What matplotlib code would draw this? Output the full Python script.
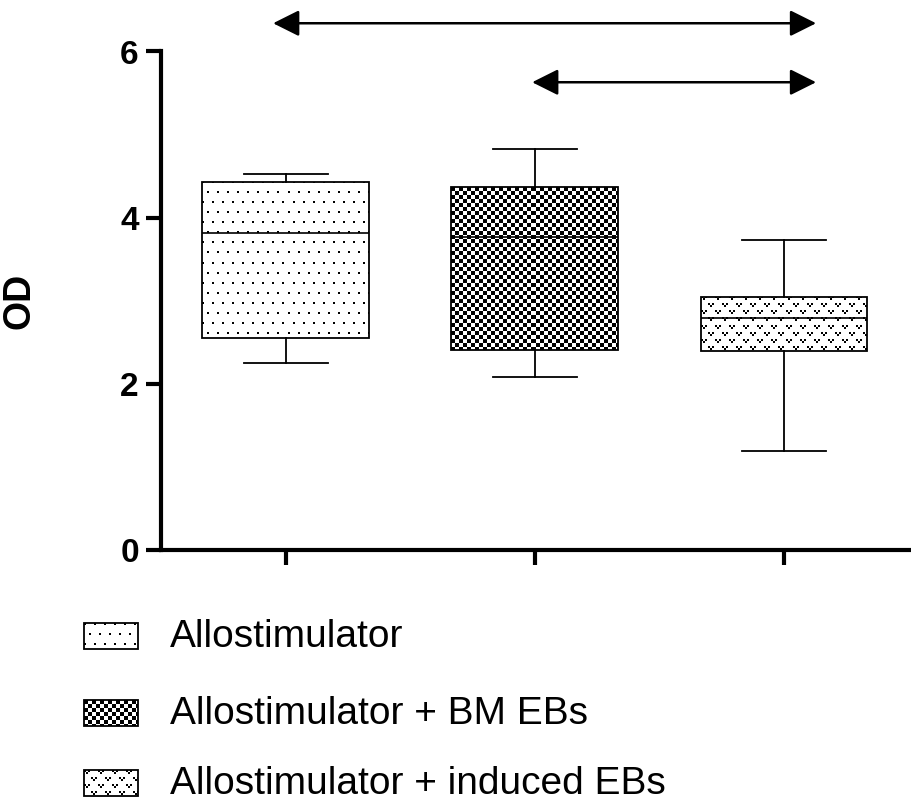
import numpy as np
import matplotlib
matplotlib.use("Agg")
import matplotlib.pyplot as plt
from matplotlib.patches import Rectangle

plt.rcParams.update({
    "font.family": "Liberation Sans",
    "font.size": 20,
    "axes.linewidth": 3,
})

groups = ["Allostimulator", "Allostimulator + BM EBs", "Allostimulator + induced EBs"]
whislo = [2.25, 2.08, 1.19]
q1 = [2.55, 2.41, 2.40]
med = [3.81, 3.77, 2.79]
q3 = [4.43, 4.37, 3.05]
whishi = [4.53, 4.83, 3.73]

# significance arrows: x span and height in data units
arrow_x = [(-0.05, 2.13), (0.99, 2.13)]
arrow_y = [6.34, 5.63]

yticks = [0, 2, 4, 6]


def dot_tex(h, w):
    yy, xx = np.mgrid[0:h, 0:w]
    shift = ((yy // 10) % 2) * 5
    return (((xx + shift) % 10) < 2) & ((yy % 10) < 2)


def checker_tex(h, w):
    yy, xx = np.mgrid[0:h, 0:w]
    return ((xx // 4 + yy // 4) % 2) == 0


def vee_tex(h, w):
    yy, xx = np.mgrid[0:h, 0:w]
    row = yy // 7
    lx = (xx + (row % 2) * 7) % 14
    ly = yy % 7
    top = (ly < 2) & ((lx < 2) | ((lx >= 4) & (lx < 6)))
    bot = (ly >= 2) & (ly < 4) & (lx >= 2) & (lx < 4)
    return top | bot


textures = [dot_tex, checker_tex, vee_tex]

fig = plt.figure(figsize=(9.11, 7.99), dpi=100)
ax = fig.add_axes([161 / 911, 249 / 799, 750 / 911, 498.5 / 799])

positions = np.arange(len(groups))
box_w = 0.668
stats = [dict(label=g, whislo=a, q1=b, med=c, q3=d, whishi=e, fliers=[])
         for g, a, b, c, d, e in zip(groups, whislo, q1, med, q3, whishi)]
bp = ax.bxp(stats, positions=positions, widths=box_w, capwidths=0.337,
            patch_artist=True, showfliers=False,
            boxprops=dict(facecolor="none", edgecolor="black", linewidth=1.3),
            whiskerprops=dict(color="black", linewidth=1.3),
            capprops=dict(color="black", linewidth=1.3),
            medianprops=dict(color="black", linewidth=1.2))

ax.set_xlim(-0.5, 2.511)
ax.set_ylim(0, 6)

# fill each box with its texture at screen resolution
for pos, lo, hi, patch, tex in zip(positions, q1, q3, bp["boxes"], textures):
    (x0, y0), (x1, y1) = ax.transData.transform([[pos - box_w / 2, lo], [pos + box_w / 2, hi]])
    arr = tex(int(round(y1 - y0)), int(round(x1 - x0))).astype(float)
    im = ax.imshow(arr, extent=(pos - box_w / 2, pos + box_w / 2, lo, hi), cmap="gray_r",
                   vmin=0, vmax=1, interpolation="nearest", aspect="auto", zorder=1.5)
    im.set_clip_path(patch)

ax.set_xlim(-0.5, 2.511)
ax.set_ylim(0, 6)

for (xa, xb), y in zip(arrow_x, arrow_y):
    ax.annotate("", xy=(xb, y), xytext=(xa, y), annotation_clip=False,
                arrowprops=dict(arrowstyle="<|-|>,head_length=0.8,head_width=0.4",
                                mutation_scale=20, lw=1.8, color="black",
                                shrinkA=0, shrinkB=0))

ax.spines["top"].set_visible(False)
ax.spines["right"].set_visible(False)
ax.set_yticks(yticks)
ax.set_yticklabels([str(t) for t in yticks], fontweight="bold", fontsize=24)
ax.set_xticks(positions)
ax.set_xticklabels([])
ax.tick_params(axis="both", length=11, width=3, pad=5)
ax.set_ylabel("OD", fontweight="bold", fontsize=27)
ax.yaxis.set_label_coords(-0.165, 0.5)

# legend swatches and labels, placed in pixels from the top-left corner
sw_x, sw_w, sw_h = 84, 54, 26
sw_tops = [623, 700, 770]
for top, tex, name in zip(sw_tops, textures, groups):
    arr = tex(sw_h, sw_w).astype(float)
    fig.figimage(1 - arr, xo=sw_x, yo=799 - top - sw_h, cmap="gray", vmin=0, vmax=1, origin="upper")
    fig.add_artist(Rectangle((sw_x / 911, (799 - top - sw_h) / 799), sw_w / 911, sw_h / 799,
                             transform=fig.transFigure, fill=False, edgecolor="black", linewidth=1.3))
    fig.text(170 / 911, (799 - top - sw_h + 2) / 799, name, fontsize=28, va="baseline", ha="left")

fig.savefig("out.png", dpi=100)
